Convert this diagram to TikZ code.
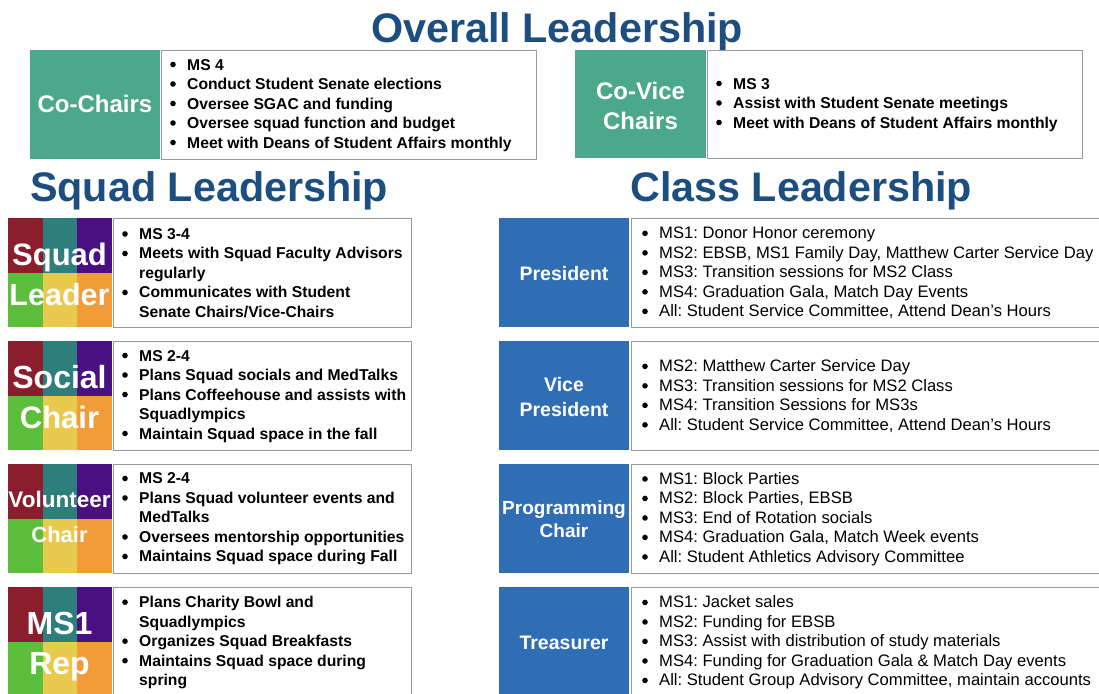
\documentclass[tikz,border=0pt]{standalone}
\usepackage{fontspec}
\setmainfont{Liberation Sans}
\frenchspacing
\definecolor{ttl}{HTML}{1D4E80}
\definecolor{grn}{HTML}{4CA88A}
\definecolor{blu}{HTML}{2F6EB5}
\definecolor{ca}{HTML}{8C1D2C}
\definecolor{cb}{HTML}{2E7E7B}
\definecolor{cc}{HTML}{4A0F80}
\definecolor{cd}{HTML}{5CBF3C}
\definecolor{ce}{HTML}{E9C94E}
\definecolor{cf}{HTML}{F09C38}
\definecolor{bord}{HTML}{9A9A9A}
\newcommand\bi{\makebox[17pt][l]{\tikz[baseline=-5.5pt]\fill[black] (3pt,0pt) circle[radius=2.8pt];}}
\newcommand\bc{\hspace*{17pt}}
\newcommand\sqgrid[3]{%
  \fill[ca] (8,#1) rectangle (42.5,#2);
  \fill[cb] (42.5,#1) rectangle (77,#2);
  \fill[cc] (77,#1) rectangle (111.5,#2);
  \fill[cd] (8,#2) rectangle (42.5,#3);
  \fill[ce] (42.5,#2) rectangle (77,#3);
  \fill[cf] (77,#2) rectangle (111.5,#3);}
\begin{document}
\begin{tikzpicture}[x=1pt,y=-1pt,
  title/.style={anchor=base west, inner sep=0, text=ttl, font=\fontsize{41.3}{44}\selectfont\bfseries},
  wbox/.style={draw=bord, line width=1.3pt, fill=white, inner sep=0, anchor=north west},
  gbox/.style={fill=grn, inner sep=0, anchor=north west},
  bbox/.style={fill=blu, inner sep=0, anchor=north west},
  lab/.style={text=white, inner sep=0, anchor=base, font=\bfseries},
  llist/.style={anchor=west, align=left, inner sep=0, font=\fontsize{15.7}{19.5}\selectfont\bfseries},
  rlist/.style={anchor=west, align=left, inner sep=0, font=\fontsize{16.6}{19.5}\selectfont}]
\useasboundingbox (0,0) rectangle (1099,693);
\fill[white] (0,0) rectangle (1099,693);

% Titles
\node[title] (t1) at (371,42) {Overall Leadership};
\node[title] (t2) at (30,201.5) {Squad Leadership};
\node[title] (t3) at (630,201.5) {Class Leadership};

% Overall
\node[gbox, minimum width=130, minimum height=109] (ccg) at (30,50) {};
\node[lab, font=\fontsize{24}{28}\selectfont\bfseries] (ccl) at (95,112.5) {Co-Chairs};
\node[wbox, minimum width=375, minimum height=109] (ccb) at (161,50) {};
\node[llist] (cct) at ([xshift=9]ccb.west) {\bi MS 4\\ \bi Conduct Student Senate elections\\ \bi Oversee SGAC and funding\\ \bi Oversee squad function and budget\\ \bi Meet with Deans of Student Affairs monthly};

\node[gbox, minimum width=131, minimum height=108] (cvg) at (575,50) {};
\node[lab, font=\fontsize{24}{28}\selectfont\bfseries] (cvl1) at (640.5,99) {Co-Vice};
\node[lab, font=\fontsize{24}{28}\selectfont\bfseries] (cvl2) at (640.5,129) {Chairs};
\node[wbox, minimum width=375, minimum height=108] (cvb) at (707,50) {};
\node[llist] (cvt) at ([xshift=9]cvb.west) {\bi MS 3\\ \bi Assist with Student Senate meetings\\ \bi Meet with Deans of Student Affairs monthly};

% Squad leadership
\sqgrid{218}{272.5}{327}
\node[lab, font=\fontsize{31}{34}\selectfont\bfseries] (s1a) at (59.5,265) {Squad};
\node[lab, font=\fontsize{30.5}{34}\selectfont\bfseries] (s1b) at (59.5,305) {Leader};
\node[wbox, minimum width=298, minimum height=109] (s1box) at (113,218) {};
\node[llist] (s1t) at ([xshift=9]s1box.west) {\bi MS 3-4\\ \bi Meets with Squad Faculty Advisors\\ \bc regularly\\ \bi Communicates with Student\\ \bc Senate Chairs/Vice-Chairs};

\sqgrid{341}{395.5}{450}
\node[lab, font=\fontsize{32}{34}\selectfont\bfseries] (s2a) at (59.5,388) {Social};
\node[lab, font=\fontsize{31}{34}\selectfont\bfseries] (s2b) at (59.5,428) {Chair};
\node[wbox, minimum width=298, minimum height=109] (s2box) at (113,341) {};
\node[llist] (s2t) at ([xshift=9]s2box.west) {\bi MS 2-4\\ \bi Plans Squad socials and MedTalks\\ \bi Plans Coffeehouse and assists with\\ \bc Squadlympics\\ \bi Maintain Squad space in the fall};

\sqgrid{464}{518.5}{573}
\node[lab, font=\fontsize{22.5}{26}\selectfont\bfseries] (s3a) at (59.5,507) {Volunteer};
\node[lab, font=\fontsize{22}{26}\selectfont\bfseries] (s3b) at (59.5,542) {Chair};
\node[wbox, minimum width=298, minimum height=109] (s3box) at (113,464) {};
\node[llist] (s3t) at ([xshift=9]s3box.west) {\bi MS 2-4\\ \bi Plans Squad volunteer events and\\ \bc MedTalks\\ \bi Oversees mentorship opportunities\\ \bi Maintains Squad space during Fall};

\sqgrid{587}{641.5}{697}
\node[lab, font=\fontsize{32}{34}\selectfont\bfseries] (s4a) at (59.5,634) {MS1};
\node[lab, font=\fontsize{32}{34}\selectfont\bfseries] (s4b) at (59.5,674) {Rep};
\node[wbox, minimum width=298, minimum height=110] (s4box) at (113,587) {};
\node[llist] (s4t) at ([xshift=9]s4box.west) {\bi Plans Charity Bowl and\\ \bc Squadlympics\\ \bi Organizes Squad Breakfasts\\ \bi Maintains Squad space during\\ \bc spring};

% Class leadership
\node[bbox, minimum width=130, minimum height=109] (c1g) at (499,218) {};
\node[lab, font=\fontsize{19.5}{23}\selectfont\bfseries] (c1l) at (564,280) {President};
\node[wbox, minimum width=475, minimum height=109] (c1box) at (631,218) {};
\node[rlist] (c1t) at ([xshift=11]c1box.west) {\bi MS1: Donor Honor ceremony\\ \bi MS2: EBSB, MS1 Family Day, Matthew Carter Service Day\\ \bi MS3: Transition sessions for MS2 Class\\ \bi MS4: Graduation Gala, Match Day Events\\ \bi All: Student Service Committee, Attend Dean’s Hours};

\node[bbox, minimum width=130, minimum height=109] (c2g) at (499,341) {};
\node[lab, font=\fontsize{19.5}{23}\selectfont\bfseries] (c2l1) at (564,391) {Vice};
\node[lab, font=\fontsize{19.5}{23}\selectfont\bfseries] (c2l2) at (564,416) {President};
\node[wbox, minimum width=475, minimum height=109] (c2box) at (631,341) {};
\node[rlist] (c2t) at ([xshift=11]c2box.west) {\bi MS2: Matthew Carter Service Day\\ \bi MS3: Transition sessions for MS2 Class\\ \bi MS4: Transition Sessions for MS3s\\ \bi All: Student Service Committee, Attend Dean’s Hours};

\node[bbox, minimum width=130, minimum height=109] (c3g) at (499,464) {};
\node[lab, font=\fontsize{19}{23}\selectfont\bfseries] (c3l1) at (564,514) {Programming};
\node[lab, font=\fontsize{19}{23}\selectfont\bfseries] (c3l2) at (564,537) {Chair};
\node[wbox, minimum width=475, minimum height=109] (c3box) at (631,464) {};
\node[rlist] (c3t) at ([xshift=11]c3box.west) {\bi MS1: Block Parties\\ \bi MS2: Block Parties, EBSB\\ \bi MS3: End of Rotation socials\\ \bi MS4: Graduation Gala, Match Week events\\ \bi All: Student Athletics Advisory Committee};

\node[bbox, minimum width=130, minimum height=110] (c4g) at (499,587) {};
\node[lab, font=\fontsize{19.5}{23}\selectfont\bfseries] (c4l) at (564,649) {Treasurer};
\node[wbox, minimum width=475, minimum height=110] (c4box) at (631,587) {};
\node[rlist] (c4t) at ([xshift=11]c4box.west) {\bi MS1: Jacket sales\\ \bi MS2: Funding for EBSB\\ \bi MS3: Assist with distribution of study materials\\ \bi MS4: Funding for Graduation Gala \& Match Day events\\ \bi All: Student Group Advisory Committee, maintain accounts};
\end{tikzpicture}
\end{document}
